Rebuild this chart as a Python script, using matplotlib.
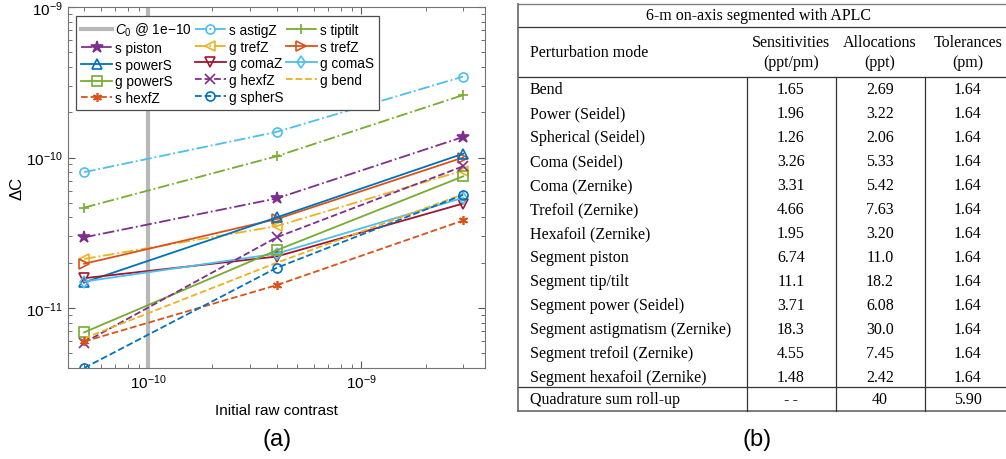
import matplotlib.pyplot as plt

# ---- data ----
contrast = [5e-11, 4e-10, 3e-9]   # initial raw contrast
c0 = 1e-10

series = {
    's astigZ':  [8.0e-11, 1.48e-10, 3.45e-10],
    's tiptilt': [4.65e-11, 1.02e-10, 2.6e-10],
    's piston':  [2.95e-11, 5.35e-11, 1.37e-10],
    'g trefZ':   [2.12e-11, 3.5e-11, 8.2e-11],
    's trefZ':   [1.97e-11, 3.9e-11, 1.0e-10],
    's powerS':  [1.48e-11, 4.0e-11, 1.06e-10],
    'g comaZ':   [1.58e-11, 2.2e-11, 4.95e-11],
    'g comaS':   [1.5e-11, 2.3e-11, 5.4e-11],
    'g powerS':  [6.9e-12, 2.42e-11, 7.5e-11],
    'g hexfZ':   [5.9e-12, 2.95e-11, 8.75e-11],
    'g bend':    [6.3e-12, 2.0e-11, 5.7e-11],
    's hexfZ':   [6.0e-12, 1.42e-11, 3.82e-11],
    'g spherS':  [4.0e-12, 1.85e-11, 5.65e-11],
}

modes = ['Bend', 'Power (Seidel)', 'Spherical (Seidel)', 'Coma (Seidel)',
         'Coma (Zernike)', 'Trefoil (Zernike)', 'Hexafoil (Zernike)',
         'Segment piston', 'Segment tip/tilt', 'Segment power (Seidel)',
         'Segment astigmatism (Zernike)', 'Segment trefoil (Zernike)',
         'Segment hexafoil (Zernike)']
sens = ['1.65', '1.96', '1.26', '3.26', '3.31', '4.66', '1.95', '6.74',
        '11.1', '3.71', '18.3', '4.55', '1.48']
alloc = ['2.69', '3.22', '2.06', '5.33', '5.42', '7.63', '3.20', '11.0',
         '18.2', '6.08', '30.0', '7.45', '2.42']
tol = ['1.64'] * 13
rollup = ['Quadrature sum roll-up', '-\u2009-', '40', '5.90']

# matlab default colours
blue, orange, yellow = '#0072BD', '#D95319', '#EDB120'
purple, green, cyan, red = '#7E2F8E', '#77AC30', '#4DBEEE', '#A2142F'

styles = {
    's astigZ':  (cyan, '-.', 'o'),
    's tiptilt': (green, '-.', '+'),
    's piston':  (purple, '-.', '*'),
    'g trefZ':   (yellow, '-.', '<'),
    's trefZ':   (orange, '-', '>'),
    's powerS':  (blue, '-', '^'),
    'g comaZ':   (red, '-', 'v'),
    'g comaS':   (cyan, '-', 'd'),
    'g powerS':  (green, '-', 's'),
    'g hexfZ':   (purple, '--', 'x'),
    'g bend':    (yellow, '--', None),
    's hexfZ':   (orange, '--', (6, 2, 0)),
    'g spherS':  (blue, '--', 'o'),
}

plt.rcParams['font.family'] = ['Liberation Sans', 'DejaVu Sans']
plt.rcParams['mathtext.fontset'] = 'custom'
plt.rcParams['mathtext.rm'] = 'Liberation Sans'
plt.rcParams['mathtext.it'] = 'Liberation Sans:italic'

fig = plt.figure(figsize=(10.06, 4.6), dpi=100)

# ---------------- (a) plot ----------------
ax = fig.add_axes([68 / 1006, 1 - 369 / 460, 417 / 1006, 361 / 460])
handles = {}
handles['c0'] = ax.axvline(c0, color='0.72', lw=3, label=r'$C_0$ @ 1e$-$10')
for name, vals in series.items():
    col, ls, mk = styles[name]
    filled = mk in ('*', (6, 2, 0))
    ln, = ax.plot(contrast, vals, color=col, ls=ls, lw=1.3, marker=mk,
                  ms=9 if mk == '*' else 6.5,
                  mfc=col if filled else 'none', mec=col, mew=1.2,
                  label=name)
    handles[name] = ln

ax.set_xscale('log')
ax.set_yscale('log')
ax.set_xlim(4.2e-11, 3.8e-9)
ax.set_ylim(4e-12, 1e-9)
ax.tick_params(which='both', direction='in', top=True, right=True,
               color='0.35', labelsize=11)
ax.tick_params(which='major', length=5)
ax.tick_params(which='minor', length=3)
for sp in ax.spines.values():
    sp.set_color('0.45')
ax.set_xlabel('Initial raw contrast', fontsize=11, labelpad=8)
ax.set_ylabel('ΔC', fontsize=12, labelpad=1)

order = ['c0', 's piston', 's powerS', 'g powerS', 's hexfZ',
         's astigZ', 'g trefZ', 'g comaZ', 'g hexfZ', 'g spherS',
         's tiptilt', 's trefZ', 'g comaS', 'g bend']
leg = ax.legend([handles[k] for k in order],
                [handles[k].get_label() for k in order],
                ncol=3, loc='upper left', bbox_to_anchor=(0.02, 0.975),
                borderaxespad=0, fontsize=9.8, handlelength=2.3,
                handletextpad=0.2, columnspacing=0.2, labelspacing=0.2,
                fancybox=False, framealpha=1, edgecolor='0.3',
                borderpad=0.35)
leg.get_frame().set_linewidth(0.9)

fig.text(277 / 1006, 1 - 440 / 460, '(a)', fontsize=17, ha='center', va='center')

# ---------------- (b) table ----------------
tx = fig.add_axes([0, 0, 1, 1], zorder=-1)
tx.set_xlim(0, 1006)
tx.set_ylim(460, 0)
tx.set_xticks([])
tx.set_yticks([])
tx.axis('off')
serif = ['Liberation Serif', 'DejaVu Serif']
fs = 11.5
L, R = 518, 1010
col_x = [747, 836, 925]
centers = [791, 880, 968]
lc = '0.2'

tx.plot([L, R], [5, 5], color='0.5', lw=1)
tx.plot([L, R], [28, 28], color=lc, lw=0.9)
tx.plot([L, R], [78, 78], color=lc, lw=0.9)
tx.plot([L, R], [388, 388], color=lc, lw=0.9)
tx.plot([L, R], [412, 412], color='0.4', lw=1.2)
tx.plot([L, L], [5, 412], color='0.4', lw=1.2)
for cx in col_x:
    tx.plot([cx, cx], [78, 412], color=lc, lw=0.9)

tx.text((L + R) / 2 - 5, 16, '6-m on-axis segmented with APLC', family=serif,
        fontsize=fs, ha='center', va='center')
tx.text(530, 53, 'Perturbation mode', family=serif, fontsize=fs, va='center')
for c, top, bot in zip(centers, ['Sensitivities', 'Allocations', 'Tolerances'],
                       ['(ppt/pm)', '(ppt)', '(pm)']):
    tx.text(c, 43, top, family=serif, fontsize=fs, ha='center', va='center')
    tx.text(c, 63, bot, family=serif, fontsize=fs, ha='center', va='center')

for i, (m, s, a, t) in enumerate(zip(modes, sens, alloc, tol)):
    y = 90 + 24 * i
    tx.text(530, y, m, family=serif, fontsize=fs, va='center')
    for c, v in zip(centers, [s, a, t]):
        tx.text(c, y, v, family=serif, fontsize=fs, ha='center', va='center')

tx.text(530, 400, rollup[0], family=serif, fontsize=fs, va='center')
for c, v in zip(centers, rollup[1:]):
    tx.text(c, 400, v, family=serif, fontsize=fs, ha='center', va='center')

fig.text(757 / 1006, 1 - 440 / 460, '(b)', fontsize=17, ha='center', va='center')

plt.savefig('out.png', dpi=100)
